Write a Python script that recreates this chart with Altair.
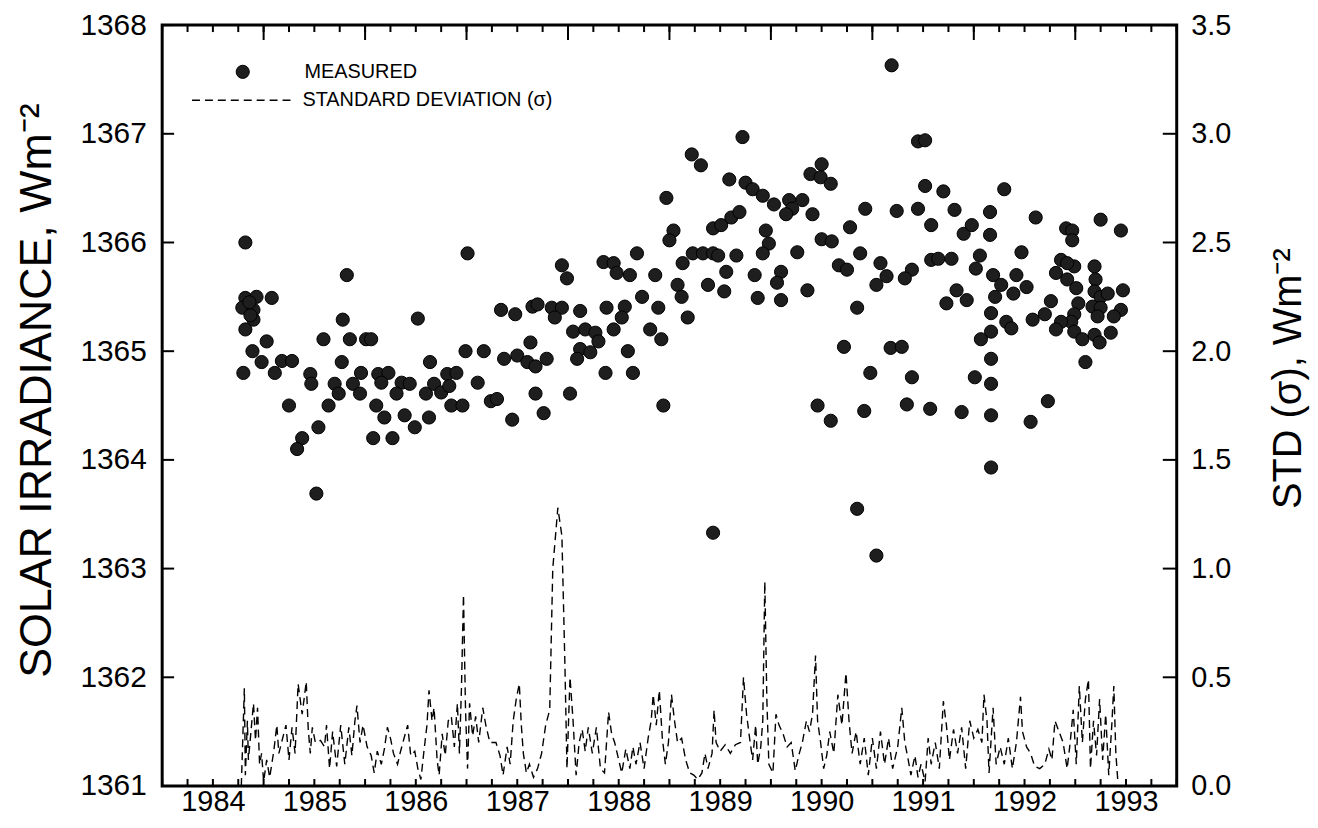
import altair as alt
import pandas as pd

FONT = "Liberation Sans"

# ---- measured solar irradiance (year, W m-2) ----
meas_year = [
    1984.82, 1984.82, 1984.93, 1985.08, 1984.79, 1984.90, 1984.90, 1984.82, 1984.86, 1984.87,
    1984.89, 1984.98, 1984.80, 1985.03, 1985.11, 1985.18, 1985.28, 1985.25, 1985.46, 1985.47,
    1985.38, 1985.33, 1985.54, 1985.52, 1985.59, 1985.78, 1985.82, 1985.85, 1985.77, 1985.70,
    1985.74, 1985.64, 1985.96, 1985.88, 1985.95, 1986.01, 1986.06, 1986.13, 1986.23, 1986.16,
    1986.11, 1986.19, 1986.08, 1986.27, 1986.36, 1986.44, 1986.31, 1986.39, 1986.49, 1986.63,
    1986.52, 1986.64, 1986.60, 1986.68, 1986.75, 1986.81, 1986.90, 1986.83, 1986.85, 1986.96,
    1986.99, 1987.17, 1987.11, 1987.24, 1987.30, 1987.45, 1987.34, 1987.48, 1987.65, 1987.63,
    1987.37, 1987.50, 1987.60, 1987.68, 1987.68, 1987.01,
    1991.19, 1989.72, 1989.22, 1989.31, 1989.59, 1989.75, 1989.82, 1989.92, 1990.03, 1990.18,
    1990.21, 1990.31, 1990.15, 1990.41, 1988.97, 1990.50, 1990.39, 1990.49, 1990.59, 1991.45,
    1991.52, 1991.52, 1990.93, 1991.24, 1991.45, 1991.58, 1990.78, 1989.04, 1989.00, 1989.43,
    1989.51, 1989.61, 1989.69, 1989.95, 1989.98, 1989.92, 1990.50, 1990.60, 1990.88, 1991.08,
    1991.14, 1991.39, 1991.32, 1991.58, 1990.67, 1990.75, 1990.26, 1990.10, 1989.66, 1989.13,
    1989.23, 1989.33, 1989.43, 1989.48, 1988.68, 1988.35, 1988.45, 1988.48, 1988.61, 1988.86,
    1987.94, 1987.99, 1989.56, 1989.84, 1989.08, 1989.12, 1989.38, 1989.54, 1990.06, 1989.87,
    1990.10, 1990.36, 1991.04, 1990.85, 1987.70, 1987.84, 1987.94, 1987.87, 1988.12, 1988.38,
    1988.56, 1988.53, 1988.45, 1988.73, 1988.89, 1989.18, 1988.81, 1988.92, 1988.05, 1988.17,
    1988.27, 1988.30, 1988.12, 1988.22, 1988.09, 1987.79, 1988.59, 1988.37, 1988.64, 1987.76,
    1988.02, 1988.94, 1990.72, 1991.18, 1991.29, 1990.98, 1991.39, 1990.46, 1990.59, 1990.92,
    1991.34, 1991.57, 1990.85, 1989.43, 1991.04,
    1991.70, 1992.30, 1991.81, 1992.16, 1991.90, 1991.98, 1992.16, 1992.61, 1992.91, 1992.97,
    1992.97, 1993.25, 1993.45, 1991.65, 1991.78, 1992.06, 1992.47, 1992.86, 1992.99, 1993.19,
    1992.02, 1992.19, 1992.42, 1992.81, 1992.27, 1992.21, 1992.39, 1992.52, 1991.83, 1991.93,
    1991.73, 1992.17, 1992.32, 1992.37, 1992.17, 1992.07, 1992.58, 1992.70, 1992.76, 1992.92,
    1992.92, 1993.01, 1993.20, 1993.19, 1993.25, 1993.32, 1993.17, 1993.25, 1993.22, 1993.03,
    1992.99, 1992.96, 1992.86, 1992.81, 1992.99, 1993.07, 1993.19, 1993.24, 1993.35, 1993.47,
    1993.45, 1993.38, 1993.10, 1991.88, 1992.17, 1992.01, 1992.17, 1992.17, 1992.56, 1992.73,
    1992.17,
]
meas_irr = [
    1366.00, 1365.49, 1365.50, 1365.49, 1365.40, 1365.38, 1365.29, 1365.20, 1365.45, 1365.33,
    1365.00, 1364.90, 1364.80, 1365.09, 1364.80, 1364.91, 1364.91, 1364.50, 1364.79, 1364.70,
    1364.20, 1364.10, 1364.30, 1363.69, 1365.11, 1365.29, 1365.70, 1365.11, 1364.90, 1364.70,
    1364.61, 1364.50, 1364.80, 1364.70, 1364.61, 1365.11, 1365.11, 1364.79, 1364.80, 1364.71,
    1364.50, 1364.39, 1364.20, 1364.20, 1364.71, 1364.70, 1364.61, 1364.41, 1364.30, 1364.39,
    1365.30, 1364.90, 1364.61, 1364.70, 1364.62, 1364.79, 1364.80, 1364.68, 1364.50, 1364.50,
    1365.00, 1365.00, 1364.71, 1364.54, 1364.56, 1364.37, 1365.38, 1365.34, 1365.41, 1365.08,
    1364.93, 1364.96, 1364.90, 1364.86, 1364.61, 1365.90,
    1367.63, 1366.97, 1366.81, 1366.71, 1366.58, 1366.55, 1366.49, 1366.43, 1366.35, 1366.39,
    1366.31, 1366.39, 1366.26, 1366.26, 1366.41, 1366.72, 1366.63, 1366.60, 1366.54, 1366.93,
    1366.94, 1366.52, 1366.31, 1366.29, 1366.31, 1366.16, 1366.14, 1366.11, 1366.02, 1366.13,
    1366.16, 1366.23, 1366.28, 1366.11, 1365.99, 1365.90, 1366.03, 1366.01, 1365.90, 1365.81,
    1365.69, 1365.75, 1365.67, 1365.84, 1365.79, 1365.75, 1365.91, 1365.73, 1365.88, 1365.81,
    1365.90, 1365.90, 1365.90, 1365.88, 1365.90, 1365.82, 1365.81, 1365.72, 1365.70, 1365.70,
    1365.79, 1365.67, 1365.73, 1365.70, 1365.61, 1365.50, 1365.61, 1365.55, 1365.63, 1365.49,
    1365.47, 1365.56, 1365.61, 1365.40, 1365.43, 1365.40, 1365.40, 1365.31, 1365.37, 1365.40,
    1365.41, 1365.31, 1365.20, 1365.50, 1365.40, 1365.31, 1365.20, 1365.11, 1365.18, 1365.20,
    1365.17, 1365.09, 1365.02, 1364.99, 1364.93, 1364.93, 1365.00, 1364.80, 1364.80, 1364.43,
    1364.61, 1364.50, 1365.04, 1365.03, 1365.04, 1364.80, 1364.76, 1364.50, 1364.36, 1364.45,
    1364.51, 1364.47, 1363.55, 1363.33, 1363.12,
    1366.47, 1366.49, 1366.30, 1366.28, 1366.08, 1366.16, 1366.07, 1366.23, 1366.13, 1366.11,
    1366.02, 1366.21, 1366.11, 1365.85, 1365.85, 1365.88, 1365.91, 1365.84, 1365.78, 1365.78,
    1365.76, 1365.70, 1365.70, 1365.72, 1365.61, 1365.50, 1365.53, 1365.59, 1365.56, 1365.47,
    1365.44, 1365.35, 1365.27, 1365.21, 1365.18, 1365.11, 1365.29, 1365.34, 1365.46, 1365.81,
    1365.66, 1365.58, 1365.66, 1365.55, 1365.50, 1365.53, 1365.41, 1365.40, 1365.32, 1365.44,
    1365.34, 1365.27, 1365.27, 1365.20, 1365.18, 1365.11, 1365.15, 1365.08, 1365.17, 1365.56,
    1365.38, 1365.32, 1364.90, 1364.44, 1364.41, 1364.76, 1364.70, 1364.93, 1364.35, 1364.54,
    1363.93,
]

# ---- standard deviation (year, W m-2) ----
std_year = [
    1984.78, 1984.81, 1984.82, 1984.84, 1984.85, 1984.90, 1984.92, 1984.94, 1984.96, 1984.98,
    1985.00, 1985.03, 1985.06, 1985.10, 1985.13, 1985.15, 1985.22, 1985.25, 1985.28, 1985.31,
    1985.34, 1985.38, 1985.42, 1985.44, 1985.46, 1985.48, 1985.51, 1985.56, 1985.60, 1985.62,
    1985.65, 1985.68, 1985.72, 1985.76, 1985.80, 1985.84, 1985.87, 1985.90, 1985.92, 1985.95,
    1985.98, 1986.02, 1986.06, 1986.09, 1986.12, 1986.16, 1986.19, 1986.22, 1986.25, 1986.28,
    1986.32, 1986.35, 1986.39, 1986.42, 1986.45, 1986.49, 1986.52, 1986.55, 1986.58, 1986.61,
    1986.63, 1986.66, 1986.68, 1986.71, 1986.73, 1986.76, 1986.79, 1986.82, 1986.85, 1986.88,
    1986.91, 1986.93, 1986.95, 1986.97, 1986.99, 1987.01, 1987.03, 1987.06, 1987.09, 1987.12,
    1987.16, 1987.19, 1987.23, 1987.29, 1987.33, 1987.36, 1987.40, 1987.43, 1987.46, 1987.49,
    1987.52, 1987.54, 1987.56, 1987.59, 1987.62, 1987.66, 1987.70,
    1987.74, 1987.78, 1987.82, 1987.85, 1987.90, 1987.94, 1987.97, 1987.99, 1988.02, 1988.05,
    1988.08, 1988.11, 1988.14, 1988.17, 1988.20, 1988.24, 1988.28, 1988.32, 1988.36, 1988.40,
    1988.43, 1988.46, 1988.50, 1988.53, 1988.57, 1988.61, 1988.64, 1988.67, 1988.71, 1988.75,
    1988.79, 1988.82, 1988.84, 1988.87, 1988.90, 1988.93, 1988.96, 1988.99, 1989.02, 1989.05,
    1989.08, 1989.12, 1989.16, 1989.20, 1989.24, 1989.28, 1989.32, 1989.35, 1989.38, 1989.42,
    1989.44, 1989.46, 1989.50, 1989.55, 1989.60, 1989.65, 1989.70, 1989.73, 1989.76, 1989.79,
    1989.82, 1989.85, 1989.87, 1989.90, 1989.92, 1989.94, 1989.96, 1989.98, 1990.02, 1990.05,
    1990.08, 1990.12, 1990.16, 1990.20, 1990.24, 1990.28, 1990.31, 1990.35, 1990.38, 1990.41,
    1990.44, 1990.46, 1990.49, 1990.52, 1990.55, 1990.58, 1990.62, 1990.66, 1990.70, 1990.74,
    1990.77, 1990.80, 1990.84, 1990.88, 1990.92, 1990.96, 1991.00, 1991.04, 1991.08, 1991.12,
    1991.16, 1991.20, 1991.25, 1991.29, 1991.32, 1991.35, 1991.38, 1991.42, 1991.45, 1991.48,
    1991.52, 1991.55, 1991.58, 1991.62, 1991.66, 1991.70, 1991.73, 1991.76, 1991.80, 1991.84,
    1991.88, 1991.92, 1991.96, 1992.00, 1992.04, 1992.08, 1992.10, 1992.13, 1992.15, 1992.19,
    1992.22, 1992.26, 1992.30, 1992.34, 1992.38, 1992.42, 1992.46, 1992.48, 1992.52, 1992.56,
    1992.60, 1992.65, 1992.70, 1992.74, 1992.77, 1992.80, 1992.84, 1992.88, 1992.92, 1992.95,
    1992.98, 1993.01, 1993.04, 1993.07, 1993.10, 1993.13, 1993.15, 1993.18, 1993.21, 1993.24,
    1993.27, 1993.30, 1993.33, 1993.36, 1993.38, 1993.40, 1993.42,
]
std_val = [
    0.00, 0.45, 0.05, 0.30, 0.12, 0.38, 0.21, 0.36, 0.10, 0.15,
    0.02, 0.12, 0.04, 0.16, 0.28, 0.15, 0.28, 0.12, 0.27, 0.15,
    0.47, 0.33, 0.48, 0.26, 0.15, 0.27, 0.20, 0.21, 0.18, 0.28,
    0.08, 0.25, 0.09, 0.28, 0.10, 0.27, 0.14, 0.30, 0.37, 0.20,
    0.28, 0.18, 0.14, 0.06, 0.16, 0.10, 0.17, 0.27, 0.22, 0.15,
    0.10, 0.16, 0.23, 0.28, 0.14, 0.16, 0.08, 0.03, 0.16, 0.28,
    0.44, 0.30, 0.36, 0.12, 0.05, 0.24, 0.14, 0.30, 0.32, 0.18,
    0.38, 0.15, 0.45, 0.88, 0.35, 0.08, 0.38, 0.23, 0.32, 0.20,
    0.36, 0.28, 0.20, 0.20, 0.14, 0.05, 0.18, 0.10, 0.30, 0.40,
    0.47, 0.28, 0.15, 0.06, 0.10, 0.04, 0.08,
    0.15, 0.28, 0.35, 1.00, 1.28, 1.15, 0.55, 0.08, 0.50, 0.30,
    0.05, 0.20, 0.26, 0.16, 0.27, 0.15, 0.27, 0.08, 0.06, 0.34,
    0.24, 0.20, 0.12, 0.06, 0.17, 0.08, 0.18, 0.10, 0.20, 0.08,
    0.22, 0.30, 0.42, 0.28, 0.44, 0.22, 0.10, 0.20, 0.42, 0.30,
    0.20, 0.22, 0.12, 0.06, 0.05, 0.03, 0.06, 0.15, 0.08, 0.15,
    0.35, 0.20, 0.16, 0.19, 0.15, 0.19, 0.20, 0.50, 0.33, 0.22,
    0.12, 0.28, 0.10, 0.18, 0.30, 0.94, 0.40, 0.10, 0.06, 0.33,
    0.28, 0.24, 0.18, 0.20, 0.07, 0.15, 0.20, 0.30, 0.25, 0.33,
    0.60, 0.30, 0.20, 0.08, 0.14, 0.25, 0.15, 0.42, 0.28, 0.52,
    0.30, 0.15, 0.25, 0.10, 0.22, 0.05, 0.22, 0.08, 0.25, 0.10,
    0.22, 0.08, 0.18, 0.36, 0.20, 0.13, 0.05, 0.14, 0.04, 0.10,
    0.02, 0.22, 0.10, 0.20, 0.08, 0.39, 0.28, 0.12, 0.26, 0.15,
    0.27, 0.08, 0.30, 0.22, 0.26, 0.20, 0.42, 0.30, 0.06, 0.36,
    0.10, 0.18, 0.10, 0.22, 0.08, 0.20, 0.41, 0.25, 0.18, 0.15,
    0.09, 0.08, 0.10, 0.17, 0.12, 0.30, 0.25, 0.20, 0.08, 0.20,
    0.35, 0.10, 0.46, 0.20, 0.40, 0.49, 0.08, 0.30, 0.14, 0.40,
    0.12, 0.33, 0.05, 0.28, 0.46, 0.15, 0.02,
]

irr_ticks = [1361, 1362, 1363, 1364, 1365, 1366, 1367, 1368]
std_ticks = [0.0, 0.5, 1.0, 1.5, 2.0, 2.5, 3.0, 3.5]
year_ticks = [1985, 1986, 1987, 1988, 1989, 1990, 1991, 1992, 1993]
quarter_ticks = [1984 + q / 4 for q in range(41)]

W, H = 1020, 765
X0, X1 = 1984, 1994
Y0, Y1 = 1361, 1368
xscale = alt.Scale(domain=[X0, X1], nice=False, zero=False)
irr_scale = alt.Scale(domain=[Y0, Y1], nice=False, zero=False)
std_scale = alt.Scale(domain=[0, 3.5], nice=False, zero=False)

pts_df = pd.DataFrame({"year": meas_year, "irr": meas_irr, "series": "MEASURED"})
std_df = pd.DataFrame({"year": std_year, "std": std_val, "series": "STANDARD DEVIATION (σ)"})

# frame tick marks as short segments (tick positions from the tick lists above;
# lengths converted from pixels to data units of the same scales)
px_x = (X1 - X0) / W
px_y = (Y1 - Y0) / H
seg_rows = []
for i, q in enumerate(quarter_ticks):
    seg_rows += [(f"b{i}", q, Y0), (f"b{i}", q, Y0 + 7 * px_y)]
    seg_rows += [(f"t{i}", q, Y1), (f"t{i}", q, Y1 - 7 * px_y)]
for i, yv in enumerate(year_ticks):
    seg_rows += [(f"T{i}", yv, Y1), (f"T{i}", yv, Y1 - 15 * px_y)]
for i, v in enumerate(irr_ticks):
    seg_rows += [(f"l{i}", X0, v), (f"l{i}", X0 + 12 * px_x, v)]
    seg_rows += [(f"r{i}", X1, v), (f"r{i}", X1 - 14 * px_x, v)]
seg_df = pd.DataFrame(seg_rows, columns=["id", "year", "irr"])

x_axis = alt.Axis(
    orient="bottom", values=quarter_ticks, ticks=False, tickSize=0, domain=False,
    grid=False, title=None,
    labelExpr="datum.value % 1 == 0.5 ? floor(datum.value) : ''",
    labelFont=FONT, labelFontSize=29, labelPadding=2, labelColor="black",
    labelOverlap=False, labelFlush=False)


def X():
    return alt.X("year:Q", scale=xscale, axis=x_axis)


points = alt.Chart(pts_df).mark_point(
    filled=True, size=175, stroke="black", strokeWidth=1, opacity=1
).encode(
    x=X(),
    y=alt.Y("irr:Q", scale=irr_scale, axis=alt.Axis(
        orient="left", values=irr_ticks, format="d", ticks=False, tickSize=0,
        domain=False, grid=False,
        labelFont=FONT, labelFontSize=30, labelPadding=16, labelColor="black",
        title="SOLAR IRRADIANCE, Wm⁻²", titleFont=FONT, titleFontSize=45,
        titleFontWeight="normal", titleColor="black", titleAngle=270,
        titleBaseline="middle", titleAlign="center", titleX=-126, titleY=367)),
    color=alt.Color("series:N", scale=alt.Scale(domain=["MEASURED"], range=["#1e1e1e"]),
                    legend=alt.Legend(orient="none", legendX=71, legendY=37, title=None,
                                      symbolType="circle", symbolSize=175,
                                      symbolStrokeColor="black", symbolStrokeWidth=1,
                                      labelFont=FONT, labelFontSize=20, labelColor="black",
                                      labelOffset=52, labelLimit=500, padding=0)),
)

std_line = alt.Chart(std_df).mark_line(strokeWidth=1.4, color="black").encode(
    x=X(),
    y=alt.Y("std:Q", scale=std_scale, axis=alt.Axis(
        orient="right", values=std_ticks, format=".1f", ticks=False, tickSize=0,
        domain=False, grid=False,
        labelFont=FONT, labelFontSize=29, labelPadding=14, labelColor="black",
        title="STD (σ), Wm⁻²", titleFont=FONT, titleFontSize=40, titleFontWeight="normal",
        titleColor="black", titleAngle=270, titleBaseline="middle", titleAlign="center",
        titleX=112, titleY=355)),
    strokeDash=alt.StrokeDash("series:N",
                              scale=alt.Scale(domain=["STANDARD DEVIATION (σ)"], range=[[8, 5]]),
                              legend=alt.Legend(orient="none", legendX=29, legendY=24, title=None,
                                                symbolType="stroke", symbolSize=10201,
                                                symbolStrokeColor="black", symbolStrokeWidth=1.4,
                                                labelFont=FONT, labelFontSize=20, labelColor="black",
                                                labelOffset=9, labelLimit=500, padding=0)),
)

frame_ticks = alt.Chart(seg_df).mark_line(color="black", strokeWidth=2, opacity=1).encode(
    x=X(),
    y=alt.Y("irr:Q", scale=irr_scale, axis=None),
    detail="id:N",
)

chart = alt.layer(points, std_line, frame_ticks).resolve_scale(
    y="independent"
).properties(
    width=W, height=H,
    autosize=alt.AutoSizeParams(type="none"),
    padding={"left": 155, "top": 15, "right": 134, "bottom": 30},
    background="white",
).configure_view(
    stroke="black", strokeWidth=3
)

chart.save("out.html", embed_options={"renderer": "svg", "actions": False})
